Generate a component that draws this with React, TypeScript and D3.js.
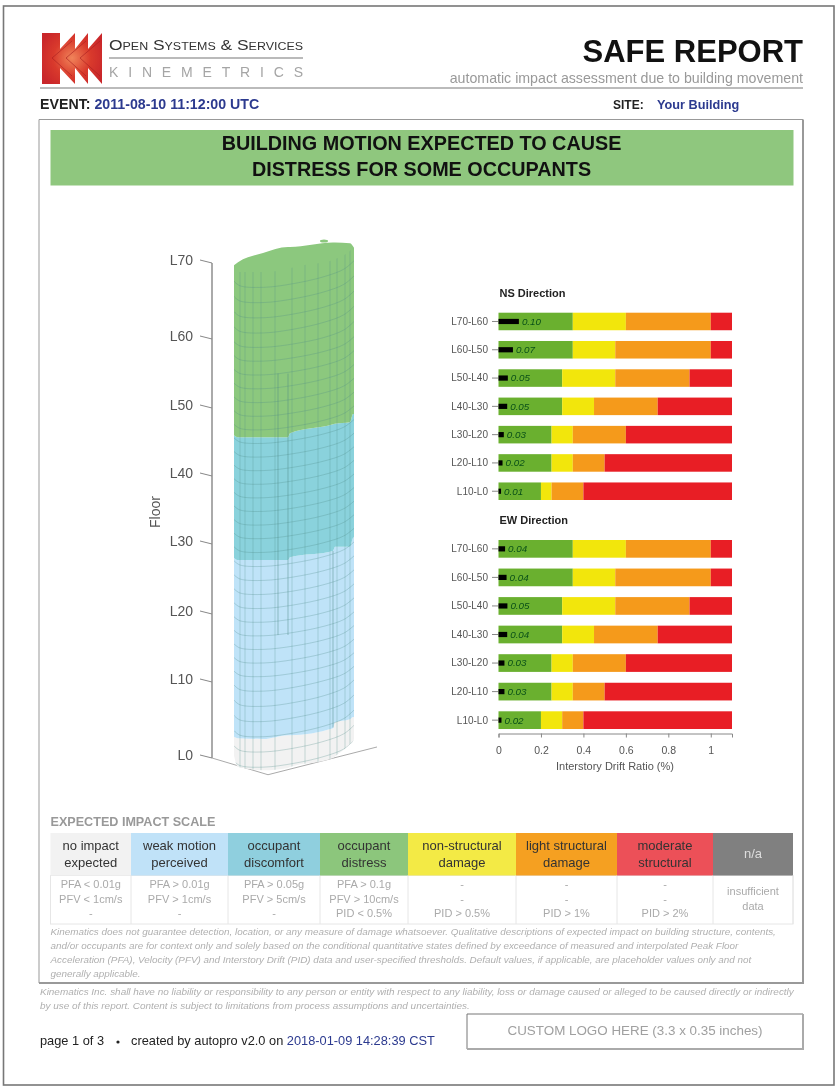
import { useEffect, useRef } from "react";
import * as d3 from "d3";

const FONT = "'Liberation Sans', Arial, sans-serif";
const BLUE = "#2c3a8f";

// building floors
const floors = [0, 10, 20, 30, 40, 50, 60, 70];
const floorLabels = ["L0", "L10", "L20", "L30", "L40", "L50", "L60", "L70"];
const floorElevation = [0, 76, 144, 214, 282, 350, 419, 495];

// plan stations along the front of the tower, and edge levels at each of them
const stations = [0, 4, 29, 54, 56, 99, 101, 116, 119, 120];
const baseEdge = [0.3, -1.2, -1.6, -1.3, -1.2, 0, 0.2, 1.8, 2.2, 2.5];
const whiteTop = [2.8, 2.6, 2.5, 3.0, 3.0, 3.9, 4.7, 5.1, 5.4, 5.4];
const blueTop = [28.0, 27.7, 27.7, 27.7, 28.1, 29.0, 29.6, 29.6, 30.9, 31.0];
const cyanTop = [46.0, 45.7, 45.7, 45.7, 46.3, 47.6, 47.7, 47.9, 49.1, 49.1];
const rimEdge = [69.7, 68.8, 68.8, 69.2, 69.3, 70.4, 70.5, 71.6, 72.0, 72.2];
const capTop = [69.7, 70.1, 71.3, 72.1, 72.1, 72.7, 72.7, 72.6, 72.2, 72.0];

// floor lines bow along the front face
const meshStations = [0, 6, 30, 60, 90, 110, 120];
const meshOffset = [-0.4, -1.0, -1.2, -0.7, 0.2, 1.2, 2.3];
const meshFloors = d3.range(0, 70, 2);
const meshColumns = [6, 11, 19, 27, 41, 58, 71, 84, 96, 103, 111, 116];
const coreLines = [
  { u: 44, from: 16.9, to: 55 },
  { u: 54, from: 16.9, to: 55 },
  { u: 99, from: 4, to: 29 },
];
const groundPlan = { u: [-22, 34, 143], level: [0, -2.2, 1.45] };

const zoneColors = ["#f2f2f2", "#bfe3f8", "#8ad2dc", "#8cc87e"];

// drift bars
const storeys = ["L70-L60", "L60-L50", "L50-L40", "L40-L30", "L30-L20", "L20-L10", "L10-L0"];
const greenEnd = [0.35, 0.35, 0.3, 0.3, 0.25, 0.25, 0.2];
const yellowEndNS = [0.6, 0.55, 0.55, 0.45, 0.35, 0.35, 0.25];
const yellowEndEW = [0.6, 0.55, 0.55, 0.45, 0.35, 0.35, 0.3];
const orangeEnd = [1, 1, 0.9, 0.75, 0.6, 0.5, 0.4];
const nsDrift = [0.096, 0.068, 0.044, 0.041, 0.025, 0.019, 0.012];
const nsLabels = ["0.10", "0.07", "0.05", "0.05", "0.03", "0.02", "0.01"];
const ewDrift = [0.031, 0.038, 0.042, 0.041, 0.028, 0.028, 0.014];
const ewLabels = ["0.04", "0.04", "0.05", "0.04", "0.03", "0.03", "0.02"];
const driftTicks = [0, 0.2, 0.4, 0.6, 0.8, 1];
const bandColors = ["#6ab02f", "#f2e60c", "#f59a1b", "#e81e25"];

// impact scale table
const scaleHeads = [
  ["no impact", "expected"],
  ["weak motion", "perceived"],
  ["occupant", "discomfort"],
  ["occupant", "distress"],
  ["non-structural", "damage"],
  ["light structural", "damage"],
  ["moderate", "structural"],
  ["n/a"],
];
const scaleEdges = [50.5, 131, 228, 320, 408, 516, 617, 713, 793];
const scaleColors = ["#f2f2f2", "#c0e2f8", "#8fcfde", "#8cc67c", "#f3ea45", "#f5a021", "#ec5058", "#808080"];
const scaleRows = [
  ["PFA < 0.01g", "PFV < 1cm/s", "-"],
  ["PFA > 0.01g", "PFV > 1cm/s", "-"],
  ["PFA > 0.05g", "PFV > 5cm/s", "-"],
  ["PFA > 0.1g", "PFV > 10cm/s", "PID < 0.5%"],
  ["-", "-", "PID > 0.5%"],
  ["-", "-", "PID > 1%"],
  ["-", "-", "PID > 2%"],
];

const disclaimer = [
  "Kinematics does not guarantee detection, location, or any measure of damage whatsoever. Qualitative descriptions of expected impact on building structure, contents,",
  "and/or occupants are for context only and solely based on the conditional quantitative states defined by exceedance of measured and interpolated Peak Floor",
  "Acceleration (PFA), Velocity (PFV) and Interstory Drift (PID) data and user-specified thresholds. Default values, if applicable, are placeholder values only and not",
  "generally applicable.",
];
const liability = [
  "Kinematics Inc. shall have no liability or responsibility to any person or entity with respect to any liability, loss or damage caused or alleged to be caused directly or indirectly",
  "by use of this report. Content is subject to limitations from process assumptions and uncertainties.",
];

// scales
const floorY = d3
  .scaleLinear()
  .domain(floors)
  .range(floorElevation.map((e) => 758 - e));
const planX = d3.scaleLinear().domain([0, 120]).range([234, 354]);
const driftX = d3.scaleLinear().domain([0, 1.1]).range([498.5, 732]);
const nsY = d3.scaleBand().domain(storeys).range([312.7, 500]).paddingInner(0.38);
const ewY = d3.scaleBand().domain(storeys).range([540, 729]).paddingInner(0.38);

const zoneArea = (lower: number[], upper: number[]) =>
  d3
    .area<number>()
    .x((u) => planX(u))
    .y0((_, i) => floorY(lower[i]))
    .y1((_, i) => floorY(upper[i]))
    .curve(d3.curveMonotoneX)(stations) as string;

const floorLine = d3
  .line<number>()
  .x((u) => planX(u))
  .curve(d3.curveCatmullRom.alpha(0.5));

function DriftPanel({ title, titleY, y, yellowEnd, drift, labels }: any) {
  return (
    <g>
      <text x={499.5} y={titleY} fontSize={11} fontWeight="bold" fill="#222">
        {title}
      </text>
      {storeys.map((s, i) => {
        const ends = [0, greenEnd[i], yellowEnd[i], orangeEnd[i], 1.1];
        const top = y(s);
        const mid = top + y.bandwidth() / 2;
        return (
          <g key={s}>
            <line x1={492} x2={498} y1={mid} y2={mid} stroke="#888" />
            <text x={488} y={mid + 3.4} fontSize={10} textAnchor="end" fill="#555">
              {s}
            </text>
            {bandColors.map((c, k) => (
              <rect
                key={c}
                x={driftX(ends[k])}
                y={top}
                width={driftX(ends[k + 1]) - driftX(ends[k])}
                height={y.bandwidth()}
                fill={c}
              />
            ))}
            <rect x={driftX(0)} y={mid - 2.6} width={driftX(drift[i]) - driftX(0)} height={5.2} fill="#000" />
            <text
              x={driftX(drift[i]) + 3}
              y={mid + 3.4}
              fontSize={9.8}
              fontStyle="italic"
              fill="#0a5018"
            >
              {labels[i]}
            </text>
          </g>
        );
      })}
    </g>
  );
}

export default function App() {
  const axisRef = useRef<SVGGElement>(null);

  useEffect(() => {
    if (!axisRef.current) return;
    const axis = d3
      .axisBottom(driftX)
      .tickValues(driftTicks)
      .tickFormat((d) => d3.format("~g")(d as number))
      .tickSize(4)
      .tickPadding(9);
    const g = d3.select(axisRef.current);
    g.call(axis as any);
    g.selectAll("path,line").attr("stroke", "#888");
    g.selectAll("text").attr("fill", "#555").attr("font-size", 10.5).attr("font-family", FONT);
  }, []);

  const meshPaths = meshFloors.map(
    (f) => floorLine.y((_, i) => floorY(f + meshOffset[i]))(meshStations) as string
  );

  return (
    <svg
      width={840}
      height={1090}
      fontFamily={FONT}
      style={{ position: "absolute", left: 0, top: 0, background: "#fff", filter: "blur(0.6px)" }}
    >
      <defs>
        <radialGradient id="logoRed" gradientUnits="userSpaceOnUse" cx={72} cy={58} r={34}>
          <stop offset="0%" stopColor="#f0845a" />
          <stop offset="55%" stopColor="#d93a2c" />
          <stop offset="100%" stopColor="#c9262a" />
        </radialGradient>
        <clipPath id="towerClip">
          <path d={zoneArea(baseEdge, rimEdge)} />
        </clipPath>
      </defs>

      {/* page frame */}
      <rect x={3.5} y={6} width={830.5} height={1079} fill="none" stroke="#777" strokeWidth={1.6} />

      {/* logo */}
      <path
        d="M42,33H60V49L75,33V49L88,33V49L102,33V84L88,68V84L75,68V84L60,68V84H42Z"
        fill="url(#logoRed)"
      />
      {[0, 1, 2].map((i) => (
        <path
          key={i}
          d={`M${72 + i * 14},41L${52 + i * 14},58L${72 + i * 14},76`}
          fill="none"
          stroke="#a81e20"
          strokeOpacity={0.6}
        />
      ))}
      <text x={109} y={50} fontSize={14} fontVariant="small-caps" fill="#333" textLength={194} lengthAdjust="spacingAndGlyphs">
        Open Systems &amp; Services
      </text>
      <line x1={109} x2={303} y1={58} y2={58} stroke="#777" strokeWidth={1.2} />
      <text x={109} y={77} fontSize={14} fill="#a5a5a5" textLength={194}>
        KINEMETRICS
      </text>

      {/* report heading */}
      <text x={803} y={62} textAnchor="end" fontSize={31} fontWeight="bold" fill="#111">
        SAFE REPORT
      </text>
      <text x={803} y={83} textAnchor="end" fontSize={14.2} fill="#999">
        automatic impact assessment due to building movement
      </text>
      <line x1={40} x2={803} y1={88} y2={88} stroke="#bbb" strokeWidth={2} />
      <text x={40} y={109} fontSize={14.2} fontWeight="bold" fill="#222">
        EVENT: <tspan fill={BLUE}>2011-08-10 11:12:00 UTC</tspan>
      </text>
      <text x={613} y={109} fontSize={12} fontWeight="bold" fill="#222">
        SITE:
      </text>
      <text x={657} y={109} fontSize={12.7} fontWeight="bold" fill={BLUE}>
        Your Building
      </text>

      {/* content box */}
      <path d="M39,983V119.5H803" fill="none" stroke="#999" strokeWidth={1} />
      <path d="M39,983H803V119.5" fill="none" stroke="#999" strokeWidth={2} />

      {/* banner */}
      <rect x={50.5} y={130} width={743} height={55.5} fill="#8fc77e" />
      <text x={421.5} y={150} textAnchor="middle" fontSize={19.8} fontWeight="bold" fill="#111">
        BUILDING MOTION EXPECTED TO CAUSE
      </text>
      <text x={421.5} y={176} textAnchor="middle" fontSize={19.8} fontWeight="bold" fill="#111">
        DISTRESS FOR SOME OCCUPANTS
      </text>

      {/* floor axis */}
      <path
        d={d3
          .line<number>()
          .x((u) => planX(u))
          .y((_, i) => floorY(groundPlan.level[i]))(groundPlan.u) as string}
        fill="none"
        stroke="#aaa"
      />
      <line x1={212} x2={212} y1={floorY(70)} y2={floorY(0)} stroke="#aaa" strokeWidth={2} />
      {floors.map((f, i) => (
        <g key={f}>
          <line x1={200} x2={212} y1={floorY(f) - 3} y2={floorY(f)} stroke="#888" />
          <text x={193} y={floorY(f) + 2} fontSize={14} textAnchor="end" fill="#555">
            {floorLabels[i]}
          </text>
        </g>
      ))}
      <text transform="translate(160,512) rotate(-90)" textAnchor="middle" fontSize={14} fill="#555">
        Floor
      </text>

      {/* tower */}
      <path d={zoneArea(baseEdge, whiteTop)} fill={zoneColors[0]} />
      <path d={zoneArea(whiteTop, blueTop)} fill={zoneColors[1]} />
      <path d={zoneArea(blueTop, cyanTop)} fill={zoneColors[2]} />
      <path d={zoneArea(cyanTop, capTop)} fill={zoneColors[3]} />
      <ellipse cx={planX(90)} cy={floorY(72.9)} rx={4} ry={1.5} fill={zoneColors[3]} />
      <g clipPath="url(#towerClip)" fill="none" stroke="#4f8a88" strokeOpacity={0.36} strokeWidth={0.8}>
        {meshPaths.map((d, i) => (
          <path key={i} d={d} />
        ))}
        {meshColumns.map((u) => (
          <line key={u} x1={planX(u)} x2={planX(u)} y1={floorY(74)} y2={floorY(-3)} />
        ))}
        {coreLines.map((c) => (
          <line key={c.u} x1={planX(c.u)} x2={planX(c.u)} y1={floorY(c.to)} y2={floorY(c.from)} strokeWidth={1.3} />
        ))}
      </g>

      {/* drift panels */}
      <DriftPanel title="NS Direction" titleY={297} y={nsY} yellowEnd={yellowEndNS} drift={nsDrift} labels={nsLabels} />
      <DriftPanel title="EW Direction" titleY={524} y={ewY} yellowEnd={yellowEndEW} drift={ewDrift} labels={ewLabels} />
      <g ref={axisRef} transform="translate(0,733.5)" />
      <text x={615} y={770} textAnchor="middle" fontSize={11} fill="#555">
        Interstory Drift Ratio (%)
      </text>

      {/* impact scale */}
      <text x={50.5} y={826} fontSize={12.6} fontWeight="bold" fill="#999">
        EXPECTED IMPACT SCALE
      </text>
      <rect x={50.5} y={875.5} width={742.5} height={48.5} fill="none" stroke="#e6e6e6" />
      {scaleHeads.map((head, i) => {
        const x0 = scaleEdges[i];
        const x1 = scaleEdges[i + 1];
        const mid = (x0 + x1) / 2;
        const isNa = head.length === 1;
        return (
          <g key={i}>
            <rect x={x0} y={833} width={x1 - x0} height={42.5} fill={scaleColors[i]} />
            <line x1={x1} x2={x1} y1={875.5} y2={924} stroke="#e6e6e6" />
            {head.map((t, k) => (
              <text
                key={t}
                x={mid}
                y={isNa ? 858 : 850 + k * 16.5}
                textAnchor="middle"
                fontSize={13}
                fill={isNa ? "#ddd" : "#333"}
              >
                {t}
              </text>
            ))}
            {isNa
              ? ["insufficient", "data"].map((t, k) => (
                  <text key={t} x={mid} y={895 + k * 15} textAnchor="middle" fontSize={11} fill="#aaa">
                    {t}
                  </text>
                ))
              : scaleRows[i].map((t, k) => (
                  <text key={k} x={mid} y={888 + k * 14.6} textAnchor="middle" fontSize={11} fill="#aaa">
                    {t}
                  </text>
                ))}
          </g>
        );
      })}

      {/* small print */}
      {disclaimer.map((t, i) => (
        <text key={i} x={50.5} y={935 + i * 14} fontSize={9.9} fontStyle="italic" fill="#b0b0b0">
          {t}
        </text>
      ))}
      {liability.map((t, i) => (
        <text key={i} x={40} y={995 + i * 14} fontSize={9.95} fontStyle="italic" fill="#b0b0b0">
          {t}
        </text>
      ))}

      {/* footer */}
      <text x={40} y={1045} fontSize={12.8} fill="#222">
        page 1 of 3
      </text>
      <circle cx={118} cy={1042} r={1.6} fill="#222" />
      <text x={131} y={1045} fontSize={12.8} fill="#222">
        created by autopro v2.0 on <tspan fill={BLUE}>2018-01-09 14:28:39 CST</tspan>
      </text>
      <path d="M467,1049V1014H803" fill="none" stroke="#777" strokeWidth={1} />
      <path d="M467,1049H803V1014" fill="none" stroke="#aaa" strokeWidth={2} />
      <text x={635} y={1035} textAnchor="middle" fontSize={13.4} fill="#a0a0a0">
        CUSTOM LOGO HERE (3.3 x 0.35 inches)
      </text>
    </svg>
  );
}
